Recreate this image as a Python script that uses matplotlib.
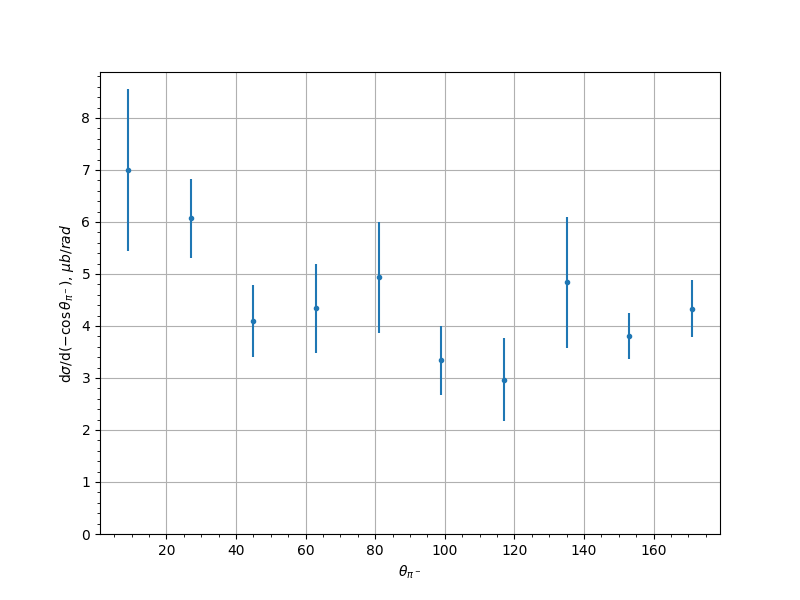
import numpy as np
import matplotlib
matplotlib.use("Agg")
import matplotlib.pyplot as plt

# bin centres in degrees
theta = [9, 27, 45, 63, 81, 99, 117, 135, 153, 171]
xsec = [7.00, 6.07, 4.10, 4.34, 4.935, 3.34, 2.97, 4.84, 3.81, 4.33]
xsec_err = [1.565, 0.76, 0.69, 0.85, 1.065, 0.66, 0.795, 1.26, 0.44, 0.545]

fig = plt.figure(figsize=(8, 6), dpi=100)
plt.errorbar(theta, xsec, yerr=xsec_err, fmt='.')
plt.xlabel(r'$\theta_{\pi^-}$')
plt.ylabel(r'd$\sigma$/d$(-\cos\theta_{\pi^-})$, $\mu b/rad$')
plt.ylim(bottom=0)
plt.minorticks_on()
plt.grid()
plt.savefig("out.png")
